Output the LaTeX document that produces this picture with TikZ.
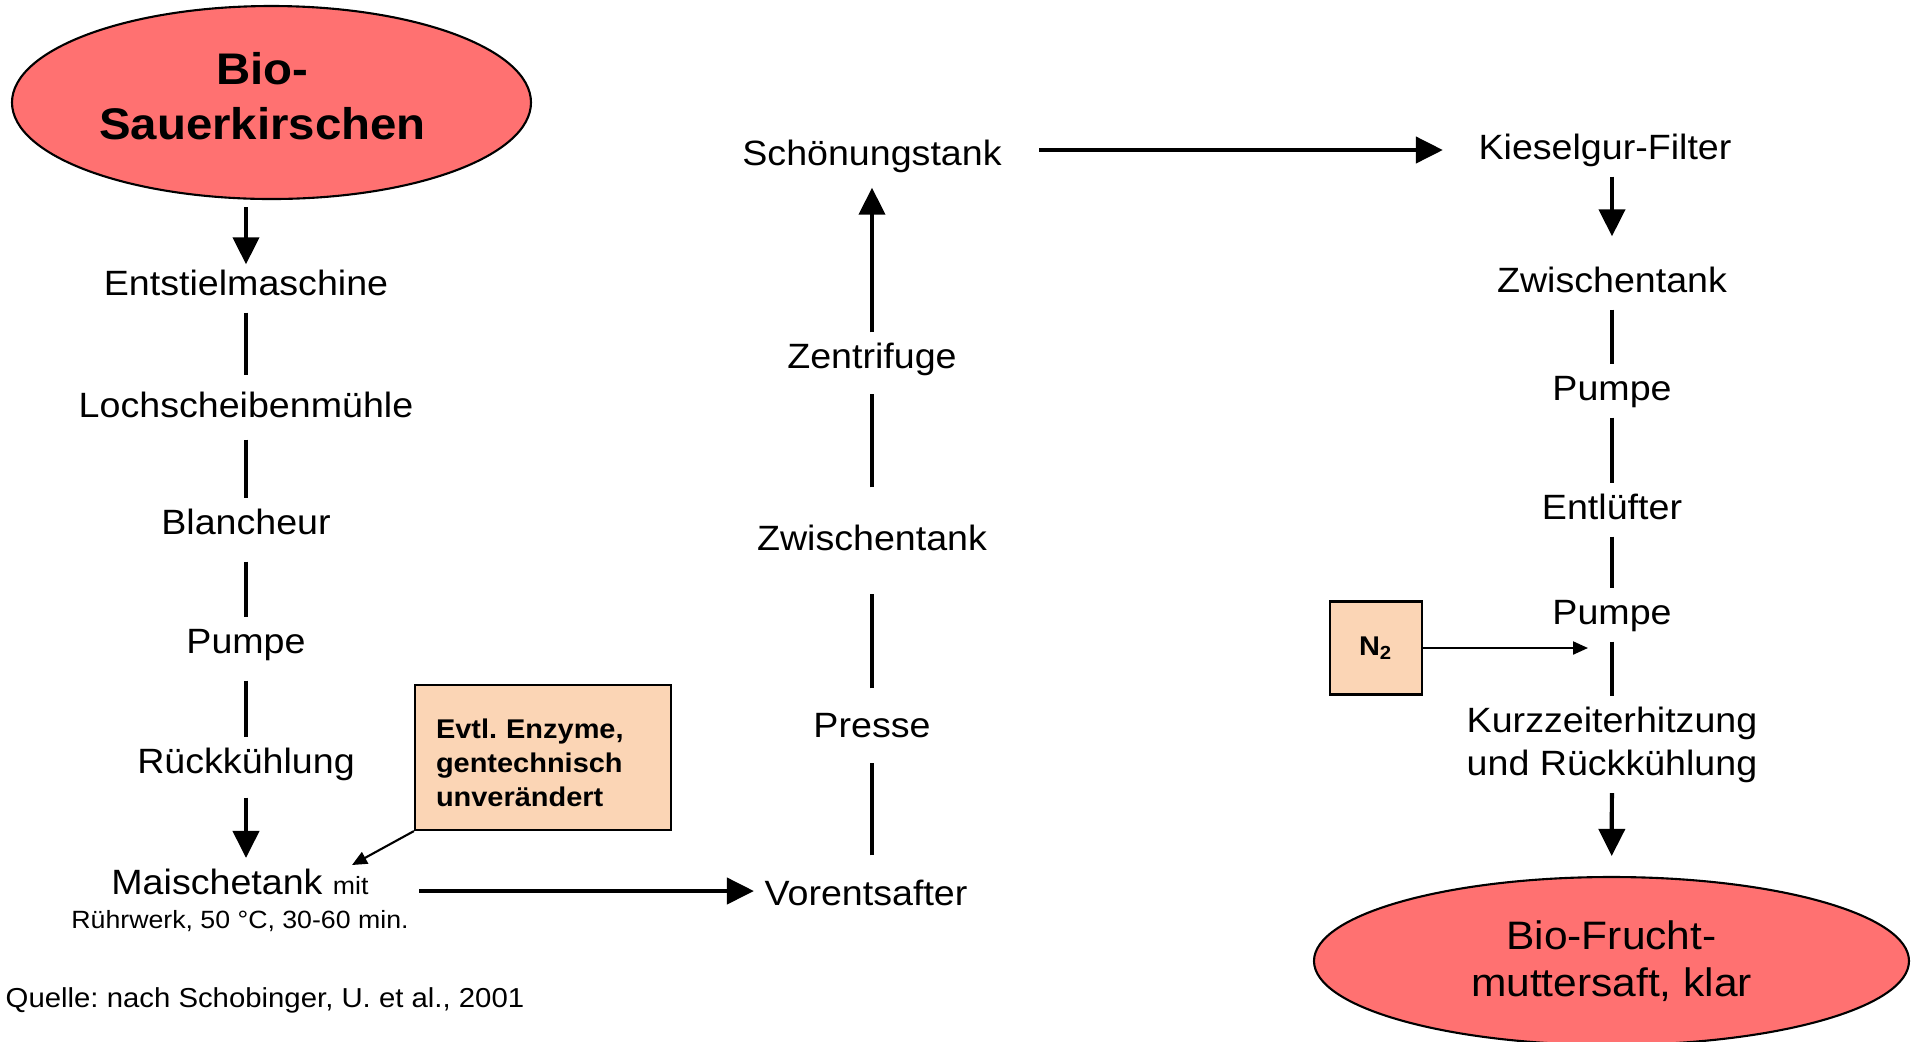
\documentclass[tikz,border=0pt]{standalone}
\usepackage{fontspec}
\setmainfont{Liberation Sans}[FakeStretch=1.07]
\usetikzlibrary{
		calc,
		arrows.meta,
		shapes.geometric,
		positioning
	}
\frenchspacing
\definecolor{kirschrot}{RGB}{255,113,113}
\definecolor{pfirsich}{RGB}{251,213,181}
\tikzset{
		>={Triangle[length=2.7mm,width=2.6mm]},
		stage/.style={anchor=base, font=\fontsize{10}{12}\selectfont, text height=2.5mm, text depth=0.7mm, inner xsep=1mm, inner ysep=1mm},
		note/.style={align=center, inner sep=1mm},
		link/.style={line width=1pt},
		flow/.style={line width=1.2pt, ->},
		feed/.style={line width=0.6pt, -{Triangle[length=1.5mm,width=1.3mm]}},
		endpoint/.style={ellipse, draw=black, line width=0.6pt, fill=kirschrot, align=center, inner sep=0pt},
		addbox/.style={draw=black, line width=0.6pt, fill=pfirsich, font=\fontsize{7.7}{9.6}\selectfont\bfseries}
	}

\begin{document}
\begin{tikzpicture}
              \useasboundingbox (0,0) rectangle (19.19,-10.41);

              % the start and the end
              \node[endpoint, minimum width=5.19cm, minimum height=1.93cm,
                    label={[font=\fontsize{12.6}{15.6}\selectfont\bfseries, align=center, xshift=-0.9mm, yshift=0.6mm]center:{Bio-\\Sauerkirschen}}] (kirsch) at (2.715,-1.025) {};
              \node[endpoint, minimum width=5.95cm, minimum height=1.68cm, font=\fontsize{11.3}{13.4}\selectfont] (saft) at (16.115,-9.61) {Bio-Frucht-\\muttersaft, klar};

              % the first column
              \node[stage] (entst) at (2.46,-2.95) {Entstielmaschine};
              \node[stage] (loch) at (2.46,-4.17) {Lochscheibenmühle};
              \node[stage] (blanch) at (2.46,-5.34) {Blancheur};
              \node[stage] (pump1) at (2.46,-6.53) {Pumpe};
              \node[stage] (rueck) at (2.46,-7.73) {Rückkühlung};
              \node[note, font=\fontsize{10}{9.7}\selectfont] (maische) at (2.40,-9.00) {Maischetank {\fontsize{7.1}{8}\selectfont mit}\\{\fontsize{7.1}{8}\selectfont Rührwerk, 50 °C, 30-60 min.}};
              \node[addbox, minimum height=1.45cm, text width=2.14cm, inner xsep=2.1mm, align=left] (enzym) at (5.43,-7.575) {\rule{0pt}{3mm}Evtl. Enzyme,\\gentechnisch\\unverändert};
              \coordinate (enzin) at (3.52,-8.65);

              % the second column
              \node[stage] (vor) at (8.66,-9.05) {Vorentsafter};
              \node[stage] (presse) at (8.72,-7.37) {Presse};
              \node[stage] (ztank1) at (8.72,-5.50) {Zwischentank};
              \node[stage] (zentr) at (8.72,-3.68) {Zentrifuge};
              \node[stage] (schoen) at (8.72,-1.65) {Schönungstank};

              % the third column
              \node[stage] (kiesel) at (16.05,-1.59) {Kieselgur-Filter};
              \node[stage] (ztank2) at (16.12,-2.92) {Zwischentank};
              \node[stage] (pump2) at (16.12,-4.00) {Pumpe};
              \node[stage] (entl) at (16.12,-5.19) {Entlüfter};
              \node[stage] (pump3) at (16.12,-6.24) {Pumpe};
              \node[note, font=\fontsize{10}{12.2}\selectfont] (kurz) at (16.12,-7.445) {Kurzzeiterhitzung\\und Rückkühlung};
              \node[addbox, minimum width=0.92cm, minimum height=0.93cm] (stick) at (13.76,-6.48) {N\textsubscript{2}};
              \coordinate (stickin) at (15.88,-6.48);

              % the source
              \node[anchor=base west, font=\fontsize{7.8}{9}\selectfont, inner sep=0pt] (quelle) at (0.05,-10.07) {Quelle: nach Schobinger, U. et al., 2001};

              % draw the connections
              \draw[flow, shorten <=0.7mm, shorten >=-0.5mm] (entst.north |- kirsch.south) -- (entst.north);
              \draw[link, shorten >=0.6mm] (entst) -- (loch);
              \draw[link, shorten <=0.5mm] (loch) -- (blanch);
              \draw[link, shorten <=1mm] (blanch) -- (pump1);
              \draw[link, shorten <=1mm] (pump1) -- (rueck);
              \draw[flow, shorten <=0.7mm] (rueck.south) -- (rueck.south |- maische.north);
              \draw[feed] (enzym.south west) -- (enzin);
              \draw[flow] ([yshift=0.5mm]maische.east |- vor.west) -- ([yshift=0.5mm]vor.west);

              \draw[link, shorten <=1.4mm, shorten >=0.8mm] (presse.south |- vor.north) -- (presse.south);
              \draw[link, shorten <=1.3mm, shorten >=2.6mm] (presse) -- (ztank1);
              \draw[link, shorten <=2.7mm, shorten >=0.8mm] (ztank1) -- (zentr);
              \draw[flow, shorten >=0.5mm] (zentr) -- (schoen);
              \draw[flow, shorten <=2.7mm, shorten >=2.5mm] (schoen.east |- kiesel.west) -- (kiesel.west);

              \draw[flow, shorten >=2mm] (ztank2.north |- kiesel.south) -- (ztank2.north);
              \draw[link] (ztank2) -- (pump2);
              \draw[link] (pump2) -- (entl);
              \draw[link] (entl) -- (pump3);
              \draw[link] (pump3) -- (kurz);
              \draw[feed] (stick.east) -- (stickin);
              \draw[flow, shorten >=2mm] (kurz) -- (saft);

\end{tikzpicture}
\end{document}
